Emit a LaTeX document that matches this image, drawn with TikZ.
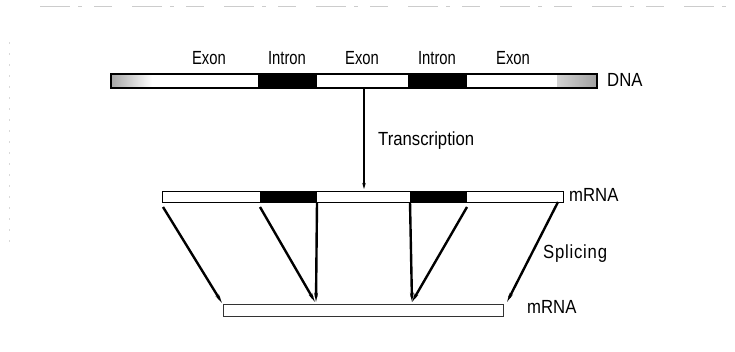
\documentclass[tikz,border=0pt]{standalone}
\usepackage{fontspec}
\setmainfont{Liberation Sans}[FakeStretch=0.88]
\usetikzlibrary{arrows.meta}

\begin{document}
\begin{tikzpicture}[x=1pt,y=-1pt,
  lbl/.style={inner sep=0pt,font=\fontsize{19}{22}\selectfont},
  narrowlbl/.style={inner sep=0pt,font=\fontsize{19}{22}\selectfont\addfontfeatures{FakeStretch=0.78}},
  seg/.style={inner sep=0pt,outer sep=0pt,anchor=north west,draw=none},
  barframe/.style={inner sep=0pt,outer sep=0pt,anchor=north west,draw=black,line width=1.2pt},
  splice/.style={line width=2.4pt,-{Stealth[length=9pt,width=3.6pt]}},
  tarrow/.style={line width=1.3pt,-{Stealth[length=6pt,width=3.5pt]}},
  scanedge/.style={gray!40,line width=0.6pt,dash pattern=on 30pt off 8pt on 4pt off 12pt on 18pt off 20pt}
]
\useasboundingbox (0,0) rectangle (735,351);

% faint page edges
\draw[scanedge] (40,6) -- (735,6);
\draw[gray!30,line width=0.5pt,dash pattern=on 2pt off 9pt] (9,42) -- (9,245);

% ---------- DNA ----------
\node[seg,minimum width=41pt,minimum height=14pt,left color=gray!70,right color=white] (dflL) at (111,74) {};
\node[seg,minimum width=106pt,minimum height=14pt,fill=white] (dex1) at (152,74) {};
\node[seg,minimum width=59pt,minimum height=14pt,fill=black] (din1) at (258,74) {};
\node[seg,minimum width=91pt,minimum height=14pt,fill=white] (dex2) at (317,74) {};
\node[seg,minimum width=59pt,minimum height=14pt,fill=black] (din2) at (408,74) {};
\node[seg,minimum width=90pt,minimum height=14pt,fill=white] (dex3) at (467,74) {};
\node[seg,minimum width=40pt,minimum height=14pt,left color=gray!35,right color=gray!75] (dflR) at (557,74) {};
\node[barframe,minimum width=486pt,minimum height=14pt] (dna) at (111,74) {};

\node[narrowlbl,anchor=base] (lex1) at (209,64) {Exon};
\node[narrowlbl,anchor=base] (lin1) at (287,64) {Intron};
\node[narrowlbl,anchor=base] (lex2) at (362,64) {Exon};
\node[narrowlbl,anchor=base] (lin2) at (437,64) {Intron};
\node[narrowlbl,anchor=base] (lex3) at (513,64) {Exon};
\node[lbl,anchor=base west] (ldna) at (607,86) {DNA};

% ---------- pre-mRNA ----------
\node[seg,minimum width=98pt,minimum height=11pt,fill=white] (mex1) at (162,191) {};
\node[seg,minimum width=57pt,minimum height=11pt,fill=black] (min1) at (260,191) {};
\node[seg,minimum width=93pt,minimum height=11pt,fill=white] (mex2) at (317,191) {};
\node[seg,minimum width=57pt,minimum height=11pt,fill=black] (min2) at (410,191) {};
\node[seg,minimum width=96pt,minimum height=11pt,fill=white] (mex3) at (467,191) {};
\node[barframe,minimum width=401pt,minimum height=11pt,line width=1pt] (pre) at (162,191) {};
\node[lbl,anchor=base west] (lpre) at (569,201) {mRNA};

% ---------- mature mRNA ----------
\node[barframe,minimum width=280pt,minimum height=12pt,line width=0.9pt,draw=black!80] (mat) at (223,304) {};
\node[lbl,anchor=base west] (lmat) at (527,313) {mRNA};

% ---------- transcription ----------
\coordinate (tA) at (364,88);
\coordinate (tB) at (364,189);
\draw[tarrow] (tA) -- (tB);
\node[lbl,anchor=base west] (ltr) at (378,145) {Transcription};

% ---------- splicing ----------
\coordinate (s1a) at (163,207);  \coordinate (s1b) at (222,303);
\coordinate (s2a) at (260,207);  \coordinate (s2b) at (315,302);
\coordinate (s3a) at (317,202);  \coordinate (s3b) at (316,302);
\coordinate (s4a) at (410,202);  \coordinate (s4b) at (412,302);
\coordinate (s5a) at (467,207);  \coordinate (s5b) at (412,302);
\coordinate (s6a) at (558,202);  \coordinate (s6b) at (507,302);
\draw[splice] (s1a) -- (s1b);
\draw[splice] (s2a) -- (s2b);
\draw[splice] (s3a) -- (s3b);
\draw[splice] (s4a) -- (s4b);
\draw[splice] (s5a) -- (s5b);
\draw[splice] (s6a) -- (s6b);
\node[lbl,anchor=base west,font=\fontsize{19}{22}\selectfont\addfontfeatures{LetterSpace=4}] (lspl) at (543,258) {Splicing};

\end{tikzpicture}
\end{document}
